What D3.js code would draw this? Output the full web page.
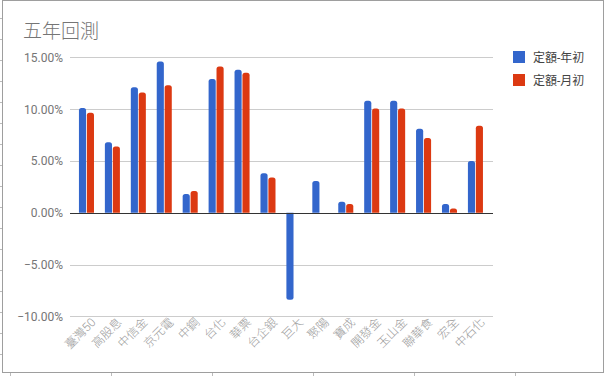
<!DOCTYPE html>
<html>
<head>
<meta charset="utf-8">
<script src="https://cdn.jsdelivr.net/npm/d3@7"></script>
<style>
	body { margin: 0; background: #fff; }
	text { font-family: Roboto, "Noto Sans CJK TC", sans-serif; }
</style>
</head>
<body>
<div id="chart"></div>
<script>
// data
var categories = ["臺灣50", "高股息", "中信金", "京元電", "中鋼", "台化", "華票", "台企銀",
	"巨大", "聚陽", "寶成", "開發金", "玉山金", "聯華食", "宏全", "中石化"];
var seriesNames = ["定額-年初", "定額-月初"];
var yearStart = [10.1, 6.8, 12.1, 14.6, 1.8, 12.9, 13.8, 3.8, -8.4, 3.05, 1.05, 10.8, 10.8, 8.1, 0.85, 5.0];
var monthStart = [9.65, 6.4, 11.6, 12.3, 2.1, 14.1, 13.5, 3.4, 0, 0, 0.85, 10.05, 10.05, 7.2, 0.4, 8.4];
var yTicks = [-10, -5, 0, 5, 10, 15];
var colors = ["#3366cc", "#dc3912"];

function init(){
	var width = 604;
	var height = 376;

	var svg = d3.select("#chart").append("svg")
		.attr("width", width)
		.attr("height", height);

	//spreadsheet frame around the chart
	svg.append("rect")
		.attr("x", 2.5).attr("y", 0.5)
		.attr("width", 601).attr("height", 372)
		.attr("fill", "none")
		.attr("stroke", "#9e9e9e");
	svg.selectAll("line.colTick").data([10, 111, 212, 313, 414, 515]).enter()
		.append("line")
		.attr("x1", d => d + 0.5).attr("x2", d => d + 0.5)
		.attr("y1", 373).attr("y2", 376)
		.attr("stroke", "#bbb");
	svg.selectAll("line.rowTick").data(d3.range(18, 372, 21)).enter()
		.append("line")
		.attr("x1", 0).attr("x2", 2)
		.attr("y1", d => d + 0.5).attr("y2", d => d + 0.5)
		.attr("stroke", "#bbb");

	var y = d3.scaleLinear().domain([-10, 15]).range([316.3, 57.3]);
	var x = d3.scaleBand().domain(categories).range([73.5, 488.4]).paddingInner(0.42).paddingOuter(0.21);
	var xs = d3.scaleBand().domain([0, 1]).range([0, x.bandwidth()]).paddingInner(0.1);

	//gridlines
	svg.selectAll("line.grid").data(yTicks.filter(d => d != 0)).enter()
		.append("line")
		.attr("x1", 70).attr("x2", 493)
		.attr("y1", d => Math.round(y(d)) + 0.5)
		.attr("y2", d => Math.round(y(d)) + 0.5)
		.attr("stroke", "#cccccc");

	svg.selectAll("text.ylab").data(yTicks).enter()
		.append("text")
		.attr("x", 63)
		.attr("y", d => y(d) + 4.5)
		.attr("text-anchor", "end")
		.attr("fill", "#757575")
		.style("font-size", "12px")
		.text(d => d3.format(".2f")(d) + "%");

	//bars with rounded ends
	function barPath(x0, w, v){
		var y0 = y(0), y1 = y(v), r = 2.5;
		if (Math.abs(y1 - y0) < r) r = Math.abs(y1 - y0);
		var k = v >= 0 ? 1 : -1;
		return "M" + x0 + "," + y0 + "V" + (y1 + k * r) + "Q" + x0 + "," + y1 + " " + (x0 + r) + "," + y1
			+ "H" + (x0 + w - r) + "Q" + (x0 + w) + "," + y1 + " " + (x0 + w) + "," + (y1 + k * r)
			+ "V" + y0 + "Z";
	}

	var seriesData = [yearStart, monthStart];
	seriesData.forEach(function(vals, s){
		svg.selectAll("path.s" + s).data(vals).enter()
			.append("path")
			.attr("class", "s" + s)
			.attr("fill", colors[s])
			.attr("d", function(d, i){
				if (d == 0) return null;
				return barPath(x(categories[i]) + xs(s), xs.bandwidth(), d);
			});
	});

	//zero line
	svg.append("line")
		.attr("x1", 70).attr("x2", 493)
		.attr("y1", Math.round(y(0)) + 0.5).attr("y2", Math.round(y(0)) + 0.5)
		.attr("stroke", "#333");

	//rotated category labels
	svg.selectAll("text.xlab").data(categories).enter()
		.append("text")
		.attr("transform", d => "translate(" + (x(d) + x.bandwidth() / 2 + 10) + ",323) rotate(-45)")
		.attr("text-anchor", "end")
		.attr("fill", "#999")
		.style("font-size", "12px")
		.style("font-weight", 300)
		.text(d => d);

	//title
	svg.append("text")
		.attr("x", 23).attr("y", 38)
		.attr("fill", "#757575")
		.style("font-size", "19px")
		.style("font-weight", 300)
		.text("五年回測");

	//legend
	var legend = svg.selectAll("g.legend").data(seriesNames).enter()
		.append("g")
		.attr("transform", (d, i) => "translate(513," + (51 + i * 23) + ")");
	legend.append("rect")
		.attr("width", 12).attr("height", 12)
		.attr("fill", (d, i) => colors[i]);
	legend.append("text")
		.attr("x", 20).attr("y", 10.5)
		.attr("fill", "#444")
		.style("font-size", "12px")
		.text(d => d);
}

window.onload = init;
</script>
</body>
</html>
